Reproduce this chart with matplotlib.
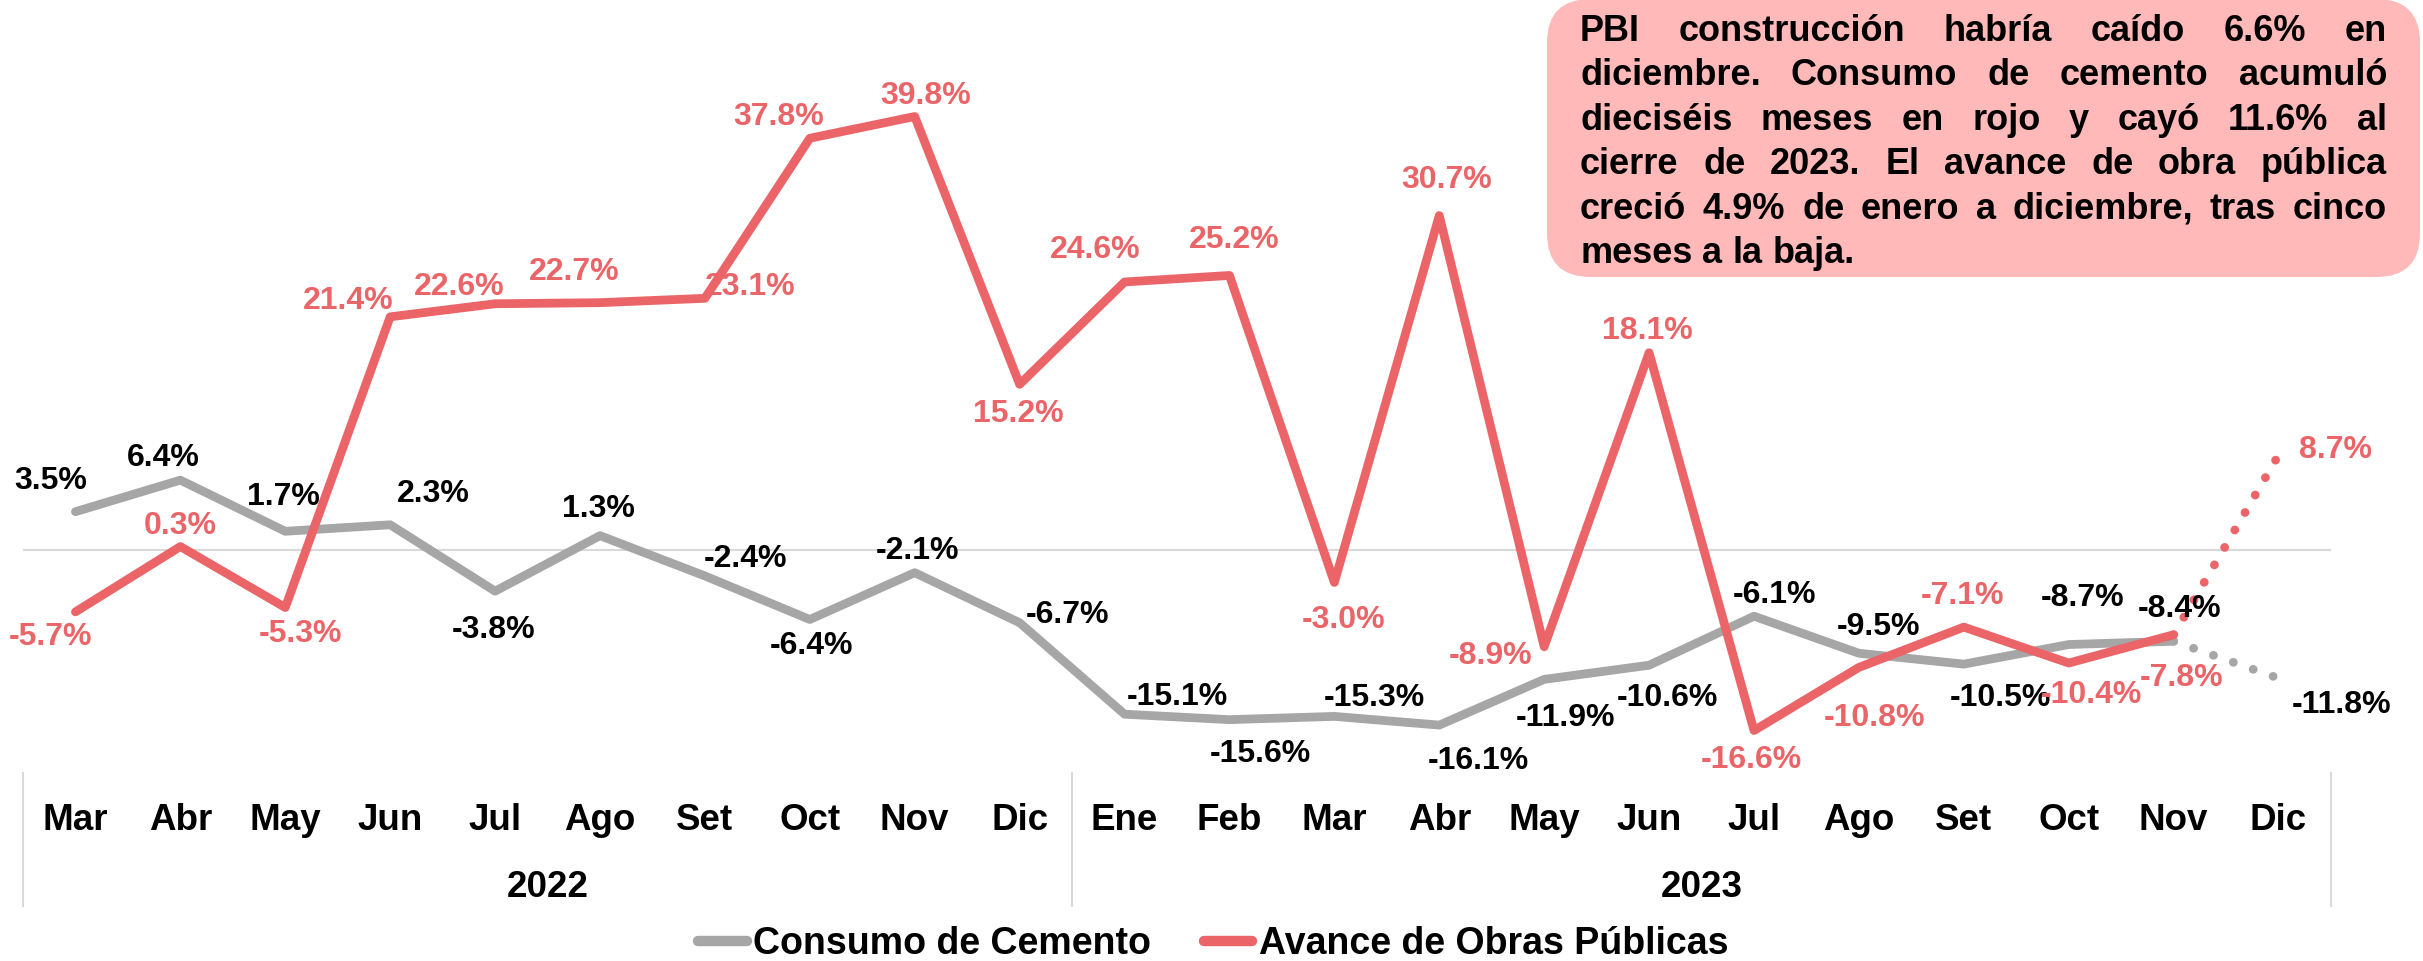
import numpy as np
import matplotlib
matplotlib.use("Agg")
import matplotlib.pyplot as plt
from matplotlib.patches import FancyBboxPatch
from matplotlib.lines import Line2D
import matplotlib.transforms as mtransforms

# datos
meses = ["Mar", "Abr", "May", "Jun", "Jul", "Ago", "Set", "Oct", "Nov", "Dic",
         "Ene", "Feb", "Mar", "Abr", "May", "Jun", "Jul", "Ago", "Set", "Oct", "Nov", "Dic"]
anios = ["2022", "2023"]
meses_por_anio = [10, 12]

cemento = [3.5, 6.4, 1.7, 2.3, -3.8, 1.3, -2.4, -6.4, -2.1, -6.7,
           -15.1, -15.6, -15.3, -16.1, -11.9, -10.6, -6.1, -9.5, -10.5, -8.7, -8.4, -11.8]
obras = [-5.7, 0.3, -5.3, 21.4, 22.6, 22.7, 23.1, 37.8, 39.8, 15.2,
         24.6, 25.2, -3.0, 30.7, -8.9, 18.1, -16.6, -10.8, -7.1, -10.4, -7.8, 8.7]

# desplazamiento de etiquetas (px en imagen reducida)
off_cem = [(-16, -20), (-11, -14), (-1, -22), (28, -20), (-1, 25), (-1, -17), (26, -11),
           (1, 17), (2, -14), (31, -5), (34, -11), (20, 22), (26, -12), (25, 23), (14, 25),
           (12, 21), (13, -14), (13, -17), (24, 22), (9, -30), (4, -21), (41, 17)]
off_obr = [(-16, 16), (0, -13), (10, 17), (-27, -10), (-23, -11), (-17, -20), (29, -7),
           (-20, -14), (7, -13), (-1, 19), (-19, -21), (3, -23), (6, 24), (5, -23), (-35, 6),
           (-1, -14), (-2, 19), (10, 33), (-1, -20), (15, 21), (5, 28), (37, -3)]

texto = ["PBI construcción habría caído 6.6% en",
         "diciembre. Consumo de cemento acumuló",
         "dieciséis meses en rojo y cayó 11.6% al",
         "cierre de 2023. El avance de obra pública",
         "creció 4.9% de enero a diciembre, tras cinco",
         "meses a la baja."]

GRIS = "#A6A6A6"
ROJO = "#EB6468"
ARIAL = ["Liberation Sans", "DejaVu Sans"]

W, H = 2423, 961
fig = plt.figure(figsize=(W / 100, H / 100), dpi=100)
ax = fig.add_axes([23 / W, 1 - 773 / H, (2331 - 23) / W, 773 / H])
ax.set_xlim(-0.5, len(meses) - 0.5)
ax.set_ylim(-20.5, 50.5)
ax.axis("off")

x = np.arange(len(meses))
ax.axhline(0, color="#D9D9D9", lw=1.5, zorder=1)

lw = 6.3
ax.plot(x[:-1], cemento[:-1], color=GRIS, lw=lw, solid_capstyle="round", solid_joinstyle="round", zorder=2)
ax.plot(x[-2:], cemento[-2:], color=GRIS, lw=lw, linestyle=(0, (0.01, 2.4)), dash_capstyle="round", zorder=2)
ax.plot(x[:-1], obras[:-1], color=ROJO, lw=lw, solid_capstyle="round", solid_joinstyle="round", zorder=3)
ax.plot(x[-2:], obras[-2:], color=ROJO, lw=lw, linestyle=(0, (0.01, 2.3)), dash_capstyle="round", zorder=3)

k = W / 1568
for serie, offs, col in [(cemento, off_cem, "black"), (obras, off_obr, ROJO)]:
    for i, v in enumerate(serie):
        dx, dy = offs[i]
        ax.annotate(f"{v:.1f}%", (x[i], v), xytext=(dx * k, -dy * k), textcoords="offset pixels",
                    ha="center", va="center", fontsize=23, fontweight="bold", color=col,
                    family=ARIAL, zorder=5)

# eje de categorias de dos niveles
trans = mtransforms.blended_transform_factory(ax.transData, ax.transAxes)
y_mes = -(830 - 773) / 773
y_anio = -(897 - 773) / 773
y_sep = -(906 - 773) / 773
for i, m in enumerate(meses):
    ax.text(x[i], y_mes, m, transform=trans, ha="center", va="baseline",
            fontsize=26.5, fontweight="bold", family=ARIAL)
inicio = -0.5
for anio, n in zip(anios, meses_por_anio):
    ax.plot([inicio, inicio], [0, y_sep], transform=trans, color="#D9D9D9", lw=1.5, clip_on=False)
    ax.text(inicio + n / 2, y_anio, anio, transform=trans, ha="center", va="baseline",
            fontsize=26.5, fontweight="bold", family=ARIAL)
    inicio += n
ax.plot([inicio, inicio], [0, y_sep], transform=trans, color="#D9D9D9", lw=1.5, clip_on=False)

# leyenda
handles = [Line2D([], [], color=GRIS, lw=7.5, solid_capstyle="round"),
           Line2D([], [], color=ROJO, lw=7.5, solid_capstyle="round")]
fig.legend(handles, ["Consumo de Cemento", "Avance de Obras Públicas"], loc="center",
           bbox_to_anchor=(1213 / W, 1 - 944 / H), ncol=2, frameon=False,
           prop={"family": ARIAL, "weight": "bold", "size": 27},
           handlelength=1.3, handletextpad=0.17, columnspacing=1.4, borderpad=0)

# recuadro con texto justificado
bx0, bx1, by0, by1 = 1547, 2420, -1, 277
box = FancyBboxPatch((bx0 / W, 1 - by1 / H), (bx1 - bx0) / W, (by1 - by0) / H,
                     boxstyle="round,pad=0,rounding_size=0.018", transform=fig.transFigure,
                     facecolor="#FFB9B9", edgecolor="none", zorder=0, mutation_aspect=W / H)
fig.patches.append(box)

fig.canvas.draw()
r = fig.canvas.get_renderer()
tx0, tx1 = 1580, 2387
for j, linea in enumerate(texto):
    yb = 1 - (41 + j * 44.4) / H
    palabras = linea.split(" ")
    objs = [fig.text(0, yb, p, fontsize=26, fontweight="bold", family=ARIAL, va="baseline")
            for p in palabras]
    anchos = [o.get_window_extent(r).width for o in objs]
    if j < len(texto) - 1:
        gap = (tx1 - tx0 - sum(anchos)) / (len(palabras) - 1)
    else:
        gap = 26 * 100 / 72 * 0.278
    xp = tx0
    for o, a in zip(objs, anchos):
        o.set_x(xp / W)
        xp += a + gap

fig.savefig("out.png", dpi=100)
